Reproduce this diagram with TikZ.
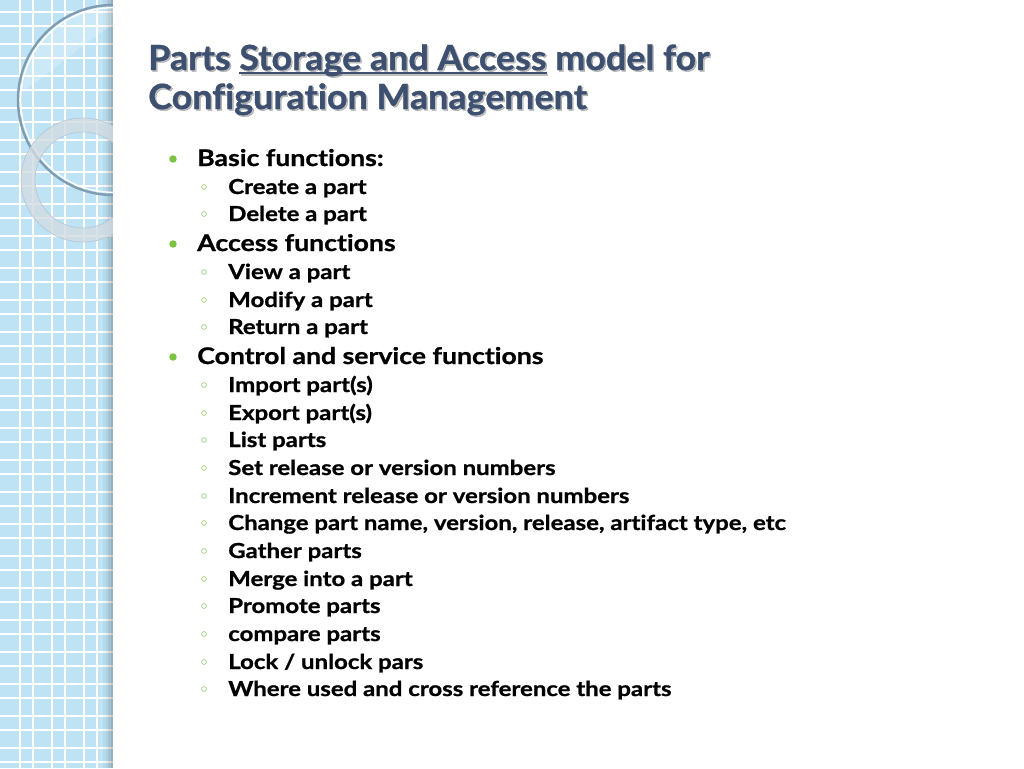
\documentclass[tikz,border=0pt]{standalone}
\usepackage{fontspec}
\setmainfont{Lato}[RawFeature=-liga]
\newfontfamily\bodyfont{Lato}[FakeStretch=1.16, RawFeature=-liga, BoldFeatures={FakeBold=0.9}]
\newfontfamily\titlefont{Lato}[FakeStretch=1.035, RawFeature=-liga, BoldFeatures={FakeBold=0.9}]
\newsavebox\ulbox
\newcommand{\ulword}[1]{\sbox\ulbox{#1}\rlap{\rule[-3pt]{\wd\ulbox}{1.4pt}}\usebox\ulbox}
\definecolor{stripblue}{HTML}{BEE3F5}
\definecolor{titleblue}{HTML}{3E5070}
\definecolor{bulletgreen}{HTML}{7CC243}
\definecolor{ringgreen}{HTML}{A9D38A}
\definecolor{circline}{HTML}{7E9DB2}
\definecolor{ringgray}{HTML}{D3DBE1}
\begin{document}
\begin{tikzpicture}[x=0.75pt,y=-0.75pt,
  lone/.style={anchor=base west, inner sep=0pt, font=\bodyfont\fontsize{17.2}{20}\selectfont\bfseries},
  ltwo/.style={anchor=base west, inner sep=0pt, font=\bodyfont\fontsize{15.5}{18}\selectfont\bfseries},
  ttl/.style={anchor=base west, inner sep=0pt, text=titleblue, font=\titlefont\fontsize{26}{30}\selectfont\bfseries},
  ttlshadow/.style={ttl, text=black, opacity=0.25},
  dotone/.style={circle, fill=bulletgreen, inner sep=0pt, minimum size=5.6pt},
  dottwo/.style={circle, draw=ringgreen, line width=0.6pt, inner sep=0pt, minimum size=3.6pt},
  gridline/.style={white, line width=1.1pt}]
\fill[white] (0,0) rectangle (1024,768);
\useasboundingbox (0,0) rectangle (1024,768);
% left strip
\fill[stripblue] (0,0) rectangle (113,768);
\foreach \x in {20,52,84,33,65,97} \draw[gridline] (\x,0) -- (\x,768);
\foreach \y in {12,44,...,768} \draw[gridline] (0,\y) -- (113,\y);
\foreach \y in {26,58,...,768} \draw[gridline] (0,\y) -- (113,\y);
\fill[black, opacity=0.04] (103,0) rectangle (105.5,768);
\fill[black, opacity=0.08] (105.5,0) rectangle (108,768);
\fill[black, opacity=0.14] (108,0) rectangle (110.5,768);
\fill[black, opacity=0.22] (110.5,0) rectangle (113,768);
\begin{scope}
  \clip (0,0) rectangle (113,768);
  \begin{scope}
    \clip (113,100) circle[radius=94];
    \fill[white, opacity=0.22] (0,0) -- (113,0) -- (113,25) .. controls (85,40) and (45,80) .. (15,95) -- (0,95) -- cycle;
  \end{scope}
  \draw[white, line width=1pt] (113,100) circle[radius=92.3];
  \draw[circline, line width=1.8pt] (113,100) circle[radius=95];
  \fill[ringgray, opacity=0.8, even odd rule] (83,180) circle[radius=62] (83,180) circle[radius=48];
  \draw[circline!60, line width=0.4pt] (83,180) circle[radius=62];
  \draw[circline!60, line width=0.4pt] (83,180) circle[radius=48];
\end{scope}
% title
\node[ttlshadow] (t1s) at (149.5,71.5) {Parts \ulword{Storage and Access} model for};
\node[ttlshadow] (t2s) at (149.5,110.5) {Configuration Management};
\node[ttl] (t1) at (148,70) {Parts \ulword{Storage and Access} model for};
\node[ttl] (t2) at (148,109) {Configuration Management};
% bullets level 1
\foreach \n/\y/\t in {a/166/{Basic functions:}, b/251/{Access functions}, c/364/{Control and service functions}}{
  \node[dotone] (d\n) at (173,\y-7) {};
  \node[lone] (l\n) at (197,\y) {\t};
}
% bullets level 2
\foreach \n/\y/\t in {
  a1/194/{Create a part}, a2/221/{Delete a part},
  b1/279/{View a part}, b2/307/{Modify a part}, b3/334/{Return a part},
  c1/392/{Import part(s)}, c2/420/{Export part(s)}, c3/447/{List parts},
  c4/475/{Set release or version numbers}, c5/503/{Increment release or version numbers},
  c6/530/{Change part name, version, release, artifact type, etc},
  c7/558/{Gather parts}, c8/586/{Merge into a part}, c9/613/{Promote parts},
  c10/641/{compare parts}, c11/669/{Lock / unlock pars},
  c12/696/{Where used and cross reference the parts}}{
  \node[dottwo] (e\n) at (204,\y-7) {};
  \node[ltwo] (m\n) at (228,\y) {\t};
}
\end{tikzpicture}
\end{document}
